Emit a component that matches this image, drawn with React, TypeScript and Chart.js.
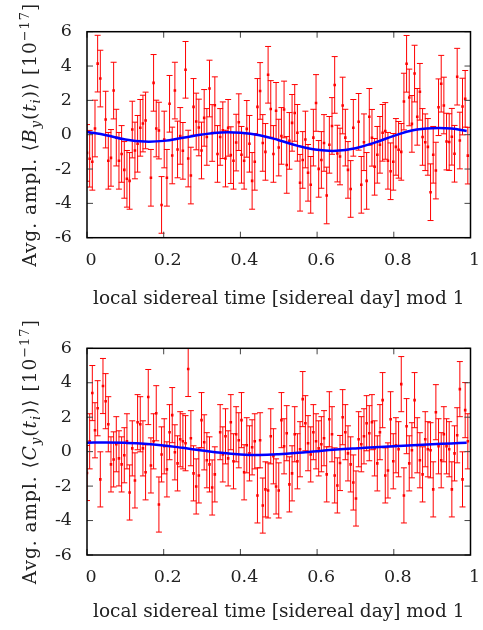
import React, { useEffect, useRef } from "react";
import { Chart, registerables } from "chart.js";

Chart.register(...registerables);

// ---------- data ----------
const BIN_COUNT = 144; // bins of local sidereal time (fraction of a sidereal day)
const X_TICKS = [0, 0.2, 0.4, 0.6, 0.8, 1];
const Y_TICKS = [-6, -4, -2, 0, 2, 4, 6];

const B_VALUES: (number | null)[] = [
  -1.06, -1.4, -1.58, 0.36, 4.14, 3.27, null, 0.88, -1.52, -1.35,
  2.57, -0.17, -1.52, -1.12, -2.05, -2.57, -2.69, 0.3, -0.92, -0.53,
  0.4, 0.65, 0.83, null, -2.51, 3.02, 0.36, 0.24, -4.09, -0.28,
  -2.51, 1.8, -1.21, 2.57, -0.86, -0.07, -0.94, 3.78, -1.39, -2.38,
  1.62, 0.77, 0.42, -0.92, 0.98, -0.13, 2.69, 0.1, 1.72, -1.12,
  -0.13, 0.26, -1.39, 0.4, -1.19, -1.52, -0.46, 0.73, -1.17, -1.52,
  0.34, -0.53, -2.69, -1.58, 1.62, 2.55, -0.48, -1.0, 3.49, 1.5,
  -1.12, 1.39, -0.75, -0.07, 1.47, -1.76, -0.36, 0.69, 1.27, 0.11,
  -2.8, -1.47, -0.28, -2.22, -2.92, -0.17, 1.85, -1.99, -1.47, -0.48,
  -3.54, -0.59, 0.51, 2.9, -1.1, -1.27, 1.7, -0.17, -2.05, -3.16,
  0.4, null, 0.75, -2.92, -0.44, -2.69, 1.04, -0.18, -1.87, -1.17,
  -0.59, 0.11, 0.22, -1.52, -2.13, -1.58, -0.71, -0.88, -1.0, 1.93,
  4.13, 2.17, 0.63, 3.56, 1.04, 2.5, -0.13, -0.44, -0.71, -3.35,
  -1.17, -2.09, 1.6, 2.97, 1.7, -0.4, -0.43, -0.12, -1.11, 3.38,
  -0.34, 1.64, 2.09, -1.22,
];

const C_VALUES: (number | null)[] = [
  -1.24, 0.6, 3.4, 1.24, 2.52, -1.61, 3.81, 2.93, 1.59, -0.74,
  -0.45, 0.43, -0.39, -0.74, -0.21, 0.6, -2.37, 0.19, -1.67, 1.71,
  1.59, 0.19, -1.2, 3.17, -0.8, 0.6, 2.23, -3.07, -0.16, 0.31,
  -1.03, 1.13, 2.12, -0.04, -0.68, 0.72, 0.6, 0.49, 4.8, 0.78,
  -1.26, -2.02, -1.38, 1.83, 0.54, -0.5, -0.74, -2.08, -1.32, null,
  1.13, -0.16, 0.89, -0.39, 1.71, -0.56, 1.01, 0.66, 1.83, -1.2,
  0.37, -0.1, 0.25, 0.6, -2.54, 0.66, -3.13, -2.19, -2.25, 0.89,
  -0.27, -2.02, -2.25, 1.83, 0.31, 1.07, -1.9, -1.26, 1.01, -0.56,
  0.14, 3.05, 1.65, 0.49, -0.16, 1.13, 0.6, 0.19, 0.43, 0.78,
  -1.32, 1.88, 1.01, -1.38, -1.96, -0.66, 2.0, 1.13, -0.1, -0.74,
  -1.79, -2.72, 0.72, 0.43, 0.89, 1.65, 1.07, 1.71, 0.19, -0.68,
  1.13, 2.99, -1.38, -1.09, 1.88, -0.56, 0.37, 0.14, 3.92, -2.54,
  1.48, -0.68, 0.08, 2.99, 0.37, -0.5, -1.32, 0.72, 0.14, 0.08,
  -2.19, 2.29, 0.31, -0.5, 1.01, 0.31, 0.14, -2.19, -0.1, 0.95,
  3.63, -1.61, 2.41, 0.6,
];

const B_ERROR = 1.65;
const C_ERROR = 1.6;

const FIT_X = [0, 0.05, 0.1, 0.15, 0.2, 0.25, 0.3, 0.35, 0.4, 0.45, 0.5, 0.55, 0.6, 0.65, 0.7, 0.75, 0.8, 0.85, 0.9, 0.95, 0.99];
const B_FIT = [0.16, -0.03, -0.28, -0.4, -0.36, -0.18, 0.01, 0.13, 0.11, -0.03, -0.32, -0.65, -0.88, -0.94, -0.79, -0.46, -0.07, 0.26, 0.38, 0.36, 0.22];
const C_FIT = [0.52, 0.53, 0.51, 0.46, 0.36, 0.22, 0.07, -0.07, -0.16, -0.19, -0.15, -0.07, 0.03, 0.12, 0.19, 0.25, 0.31, 0.37, 0.43, 0.48, 0.52];

const X_TITLE = "local sidereal time [sidereal day] mod 1";

type Seg = { t: string; k: "n" | "i" | "sub" | "sup" };
const B_Y_TITLE: Seg[] = [
  { t: "Avg. ampl. \u27E8", k: "n" },
  { t: "B", k: "i" },
  { t: "y", k: "sub" },
  { t: "(", k: "n" },
  { t: "t", k: "i" },
  { t: "i", k: "sub" },
  { t: ")\u27E9 [10", k: "n" },
  { t: "\u221217", k: "sup" },
  { t: "]", k: "n" },
];
const C_Y_TITLE: Seg[] = [
  { t: "Avg. ampl. \u27E8", k: "n" },
  { t: "C", k: "i" },
  { t: "y", k: "sub" },
  { t: "(", k: "n" },
  { t: "t", k: "i" },
  { t: "i", k: "sub" },
  { t: ")\u27E9 [10", k: "n" },
  { t: "\u221217", k: "sup" },
  { t: "]", k: "n" },
];

// ---------- styling ----------
const FAMILY = '"DejaVu Serif", serif';
const TICK_FS = 17.5;
const TITLE_FS = 18.5;
const TEXT_COLOR = "#222";
const W = 483;

type PanelCfg = {
  values: (number | null)[];
  err: number;
  fit: number[];
  yTitle: Seg[];
  yTitleLength: number;
  height: number;
  areaTop: number;
  areaBottom: number;
  xTitleOffset: number;
};

function segFont(k: Seg["k"]) {
  if (k === "i") return `italic ${TITLE_FS}px ${FAMILY}`;
  if (k === "sub") return `italic 13px ${FAMILY}`;
  if (k === "sup") return `13px ${FAMILY}`;
  return `${TITLE_FS}px ${FAMILY}`;
}

function makePlugin(cfg: PanelCfg) {
  return {
    id: "panelDecor",
    beforeDatasetsDraw(chart: any) {
      const { ctx, chartArea: a, scales } = chart;
      const xs = scales.x;
      const ys = scales.y;
      ctx.save();
      ctx.beginPath();
      ctx.rect(a.left, a.top, a.right - a.left, a.bottom - a.top);
      ctx.clip();
      ctx.strokeStyle = "#ff0000";
      ctx.lineWidth = 1;
      cfg.values.forEach((v, i) => {
        if (v == null) return;
        const x = xs.getPixelForValue(i / BIN_COUNT);
        const y1 = ys.getPixelForValue(v - cfg.err);
        const y2 = ys.getPixelForValue(v + cfg.err);
        ctx.beginPath();
        ctx.moveTo(x, y1);
        ctx.lineTo(x, y2);
        ctx.moveTo(x - 3, y1);
        ctx.lineTo(x + 3, y1);
        ctx.moveTo(x - 3, y2);
        ctx.lineTo(x + 3, y2);
        ctx.stroke();
      });
      ctx.restore();
    },
    afterDraw(chart: any) {
      const { ctx, chartArea: a, scales } = chart;
      const xs = scales.x;
      const ys = scales.y;
      ctx.save();
      // inward ticks on all four sides
      ctx.strokeStyle = "#444";
      ctx.lineWidth = 1;
      const TL = 6;
      ctx.beginPath();
      X_TICKS.forEach((v) => {
        const x = xs.getPixelForValue(v);
        ctx.moveTo(x, a.bottom);
        ctx.lineTo(x, a.bottom - TL);
        ctx.moveTo(x, a.top);
        ctx.lineTo(x, a.top + TL);
      });
      Y_TICKS.forEach((v) => {
        const y = ys.getPixelForValue(v);
        ctx.moveTo(a.left, y);
        ctx.lineTo(a.left + TL, y);
        ctx.moveTo(a.right, y);
        ctx.lineTo(a.right - TL, y);
      });
      ctx.stroke();
      // frame
      ctx.strokeStyle = "#000";
      ctx.lineWidth = 1.5;
      ctx.strokeRect(a.left, a.top, a.right - a.left, a.bottom - a.top);

      // x title
      ctx.fillStyle = TEXT_COLOR;
      ctx.font = `${TITLE_FS}px ${FAMILY}`;
      ctx.textAlign = "center";
      ctx.textBaseline = "alphabetic";
      ctx.fillText(X_TITLE, (a.left + a.right) / 2, a.bottom + cfg.xTitleOffset);

      // y title (rotated, with sub/superscripts)
      ctx.textAlign = "left";
      let total = 0;
      let nChars = 0;
      cfg.yTitle.forEach((s) => {
        ctx.font = segFont(s.k);
        total += ctx.measureText(s.t).width;
        nChars += s.t.length;
      });
      const spacing = Math.max(0, (cfg.yTitleLength - total) / nChars);
      const hasLS = "letterSpacing" in ctx;
      const sp = hasLS ? spacing : 0;
      const fullLen = total + sp * nChars;
      ctx.translate(36, (a.top + a.bottom) / 2);
      ctx.rotate(-Math.PI / 2);
      let x = -fullLen / 2;
      cfg.yTitle.forEach((s) => {
        ctx.font = segFont(s.k);
        if (hasLS) (ctx as any).letterSpacing = `${sp}px`;
        const dy = s.k === "sub" ? 4 : s.k === "sup" ? -7.5 : 0;
        const w = ctx.measureText(s.t).width;
        ctx.fillText(s.t, x, dy);
        x += hasLS ? w : w + sp * s.t.length;
      });
      if (hasLS) (ctx as any).letterSpacing = "0px";
      ctx.restore();
    },
  };
}

function Panel({ cfg, top }: { cfg: PanelCfg; top: number }) {
  const ref = useRef<HTMLCanvasElement | null>(null);
  useEffect(() => {
    const canvas = ref.current!;
    const points = cfg.values
      .map((v, i) => (v == null ? null : { x: i / BIN_COUNT, y: v }))
      .filter((p) => p !== null) as { x: number; y: number }[];
    const fitPts = FIT_X.map((x, i) => ({ x, y: cfg.fit[i] }));
    const chart = new Chart(canvas, {
      type: "scatter",
      data: {
        datasets: [
          {
            type: "line",
            data: fitPts,
            borderColor: "#0000ff",
            borderWidth: 2.5,
            pointRadius: 0,
            tension: 0.4,
            fill: false,
            order: 0,
          } as any,
          {
            type: "scatter",
            data: points,
            pointStyle: "rect",
            pointRadius: 1.8,
            backgroundColor: "#ff0000",
            borderWidth: 0,
            order: 1,
          } as any,
        ],
      },
      options: {
        animation: false,
        responsive: false,
        events: [],
        layout: { padding: { top: cfg.areaTop, right: 12.5, left: 0, bottom: 0 } },
        plugins: { legend: { display: false }, tooltip: { enabled: false } },
        scales: {
          x: {
            type: "linear",
            min: 0,
            max: 1,
            afterBuildTicks: (s: any) => {
              s.ticks = X_TICKS.map((v) => ({ value: v }));
            },
            afterFit: (s: any) => {
              s.height = cfg.height - cfg.areaBottom;
              s.paddingLeft = 0;
              s.paddingRight = 0;
            },
            grid: { display: false, drawTicks: false },
            border: { display: false },
            ticks: {
              font: { family: FAMILY, size: TICK_FS },
              color: TEXT_COLOR,
              padding: 12,
              labelOffset: 4,
              maxRotation: 0,
              autoSkip: false,
              callback: (v: any) => String(Math.round(Number(v) * 10) / 10),
            },
          },
          y: {
            type: "linear",
            min: -6,
            max: 6,
            afterBuildTicks: (s: any) => {
              s.ticks = Y_TICKS.map((v) => ({ value: v }));
            },
            afterFit: (s: any) => {
              s.width = 87;
              s.paddingTop = 0;
              s.paddingBottom = 0;
            },
            grid: { display: false, drawTicks: false },
            border: { display: false },
            ticks: {
              font: { family: FAMILY, size: TICK_FS },
              color: TEXT_COLOR,
              padding: 15,
              autoSkip: false,
              callback: (v: any) => String(v),
            },
          },
        },
      },
      plugins: [makePlugin(cfg)],
    });
    return () => chart.destroy();
  }, [cfg]);
  return (
    <canvas
      ref={ref}
      width={W}
      height={cfg.height}
      style={{ position: "absolute", left: 0, top, width: W, height: cfg.height }}
    />
  );
}

const TOP_CFG: PanelCfg = {
  values: B_VALUES,
  err: B_ERROR,
  fit: B_FIT,
  yTitle: B_Y_TITLE,
  yTitleLength: 264,
  height: 316,
  areaTop: 31.7,
  areaBottom: 237.7,
  xTitleOffset: 66.5,
};
const BOTTOM_CFG: PanelCfg = {
  values: C_VALUES,
  err: C_ERROR,
  fit: C_FIT,
  yTitle: C_Y_TITLE,
  yTitleLength: 265,
  height: 314,
  areaTop: 32.3,
  areaBottom: 239,
  xTitleOffset: 62,
};

export default function App() {
  return (
    <div style={{ position: "fixed", left: 0, top: 0, width: W, height: 630, background: "#fff", overflow: "hidden" }}>
      <Panel cfg={TOP_CFG} top={0} />
      <Panel cfg={BOTTOM_CFG} top={316} />
    </div>
  );
}
